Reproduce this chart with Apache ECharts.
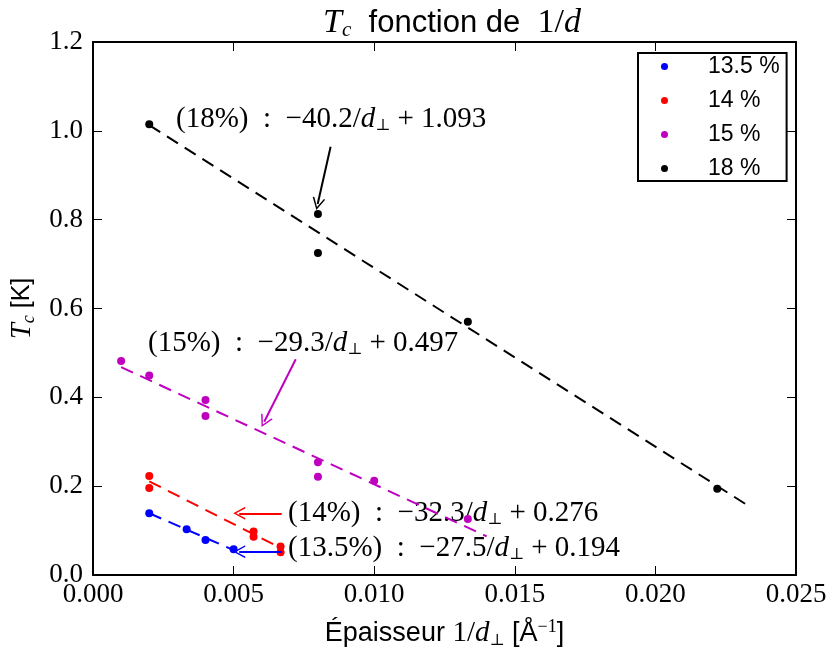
<!DOCTYPE html>
<html>
<head>
<meta charset="utf-8">
<script src="https://cdn.jsdelivr.net/npm/echarts@6/dist/echarts.min.js"></script>
<style>
  html, body { margin: 0; padding: 0; background: #fff; }
  #chart { width: 830px; height: 654px; }
</style>
</head>
<body>
<div id="chart"></div>
<script>
var names = ['13.5 %', '14 %', '15 %', '18 %'];
var colors = ['#0000ff', '#ff0000', '#bf00bf', '#000000'];

var x135 = [0.002, 0.00333, 0.004, 0.005];
var tc135 = [0.139, 0.103, 0.079, 0.058];
var x14 = [0.002, 0.002, 0.00571, 0.00571, 0.00667, 0.00667];
var tc14 = [0.223, 0.196, 0.098, 0.086, 0.064, 0.051];
var x15 = [0.001, 0.002, 0.004, 0.004, 0.008, 0.008, 0.01, 0.01333];
var tc15 = [0.482, 0.449, 0.394, 0.358, 0.254, 0.221, 0.212, 0.126];
var x18 = [0.002, 0.008, 0.008, 0.01333, 0.0222];
var tc18 = [1.015, 0.813, 0.725, 0.570, 0.194];

// droites d'ajustement (extremites)
var fit135 = [[0.002, 0.139], [0.005, 0.056]];
var fit14 = [[0.002, 0.211], [0.00667, 0.061]];
var fit15 = [[0.001, 0.468], [0.0140, 0.087]];
var fit18 = [[0.002, 1.013], [0.0233, 0.156]];

// fleches des annotations (queue, pointe)
var arrow135 = [[0.00671, 0.0525], [0.00520, 0.0525]];
var arrow14 = [[0.00671, 0.1389], [0.00520, 0.1389]];
var arrow15 = [[0.00721, 0.4856], [0.00609, 0.3451]];
var arrow18 = [[0.00845, 0.9642], [0.00799, 0.8352]];

var labels = ['(13.5%)', '(14%)', '(15%)', '(18%)'];
var slopes = ['−27.5', '−32.3', '−29.3', '−40.2'];
var offsets = ['0.194', '0.276', '0.497', '1.093'];

var xTickLabels = ['0.000', '0.005', '0.010', '0.015', '0.020', '0.025'];
var yTickLabels = ['0.0', '0.2', '0.4', '0.6', '0.8', '1.0', '1.2'];

var SERIF = 'Liberation Serif';
var SANS = 'Liberation Sans';

function pts(xs, ys) {
    var out = [];
    for (var i = 0; i < xs.length; i++) out.push([xs[i], ys[i]]);
    return out;
}

var chart = echarts.init(document.getElementById('chart'), null, {renderer: 'canvas'});

var chevron = 'path://M0,10 L5,0 L10,10 L8.7,10 L5,2.4 L1.3,10 Z';

function fitSeries(name, data, color, arrow) {
    return {
        name: name,
        type: 'line',
        data: data,
        symbol: 'none',
        silent: true,
        z: 1,
        lineStyle: {color: color, width: 2, type: [13, 8]},
        markLine: {
            silent: true,
            symbol: ['none', chevron],
            symbolSize: [13, 12],
            label: {show: false},
            lineStyle: {color: color, width: 2, type: 'solid'},
            data: [[{coord: arrow[0]}, {coord: arrow[1]}]]
        }
    };
}

function scatterSeries(i, data) {
    return {
        name: names[i],
        type: 'scatter',
        data: data,
        symbol: 'circle',
        symbolSize: 8,
        z: 3,
        itemStyle: {color: colors[i], opacity: 1},
        emphasis: {disabled: true}
    };
}

var richEq = {
    i: {fontFamily: SERIF, fontStyle: 'italic', fontSize: 29, color: '#000'},
    s: {fontFamily: 'DejaVu Serif', fontSize: 16, color: '#000', verticalAlign: 'bottom', padding: [13, 0, 0, 0]}
};

function eqText(k, left, top) {
    return {
        type: 'text',
        left: left,
        top: top,
        silent: true,
        style: {
            text: labels[k] + '  :  ' + slopes[k] + '/{i|d}{s|⊥} + ' + offsets[k],
            font: '29px "' + SERIF + '"',
            fill: '#000',
            rich: richEq
        }
    };
}

function frameAxis() {
    return {
        axisLine: {show: true, onZero: false, lineStyle: {color: '#000', width: 2}},
        axisTick: {show: true, inside: true, length: 9, lineStyle: {color: '#000', width: 1}},
        splitLine: {show: false}
    };
}

var option = {
    backgroundColor: '#fff',
    animation: false,
    title: {
        text: '{i|T}{s|c}{t|  fonction de  }{m|1/}{i|d}',
        left: 447,
        textAlign: 'center',
        top: 0,
        textStyle: {
            fontWeight: 'normal',
            rich: {
                i: {fontFamily: SERIF, fontStyle: 'italic', fontWeight: 'normal', fontSize: 34, color: '#000'},
                s: {fontFamily: SERIF, fontStyle: 'italic', fontWeight: 'normal', fontSize: 21, color: '#000', verticalAlign: 'bottom', padding: [15, 0, 0, 0]},
                t: {fontFamily: SANS, fontWeight: 'normal', fontSize: 31, color: '#000'},
                m: {fontFamily: SERIF, fontWeight: 'normal', fontSize: 34, color: '#000'}
            }
        }
    },
    grid: {left: 93, right: 34, top: 42, bottom: 79, containLabel: false},
    legend: {
        data: names,
        orient: 'vertical',
        left: 638,
        top: 53,
        itemWidth: 7,
        itemHeight: 7,
        itemGap: 11,
        icon: 'circle',
        padding: [2, 7, 1, 23],
        borderColor: '#000',
        borderWidth: 2,
        backgroundColor: '#fff',
        formatter: function (n) { return '{t|' + n + '}'; },
        textStyle: {
            rich: {
                t: {fontFamily: SANS, fontSize: 23, lineHeight: 22, color: '#000', padding: [0, 0, 0, 35]}
            }
        }
    },
    xAxis: [
        Object.assign({
            type: 'value',
            position: 'bottom',
            min: 0, max: 0.025, interval: 0.005,
            name: '{a|Épaisseur }{m|1/}{i|d}{s|⊥}{a| [Å}{p|−1}{a|]}',
            nameLocation: 'middle',
            nameGap: 43,
            nameTextStyle: {
                rich: {
                    a: {fontFamily: SANS, fontSize: 27, color: '#000'},
                    m: {fontFamily: SERIF, fontSize: 29, color: '#000'},
                    i: {fontFamily: SERIF, fontStyle: 'italic', fontSize: 29, color: '#000'},
                    s: {fontFamily: 'DejaVu Serif', fontSize: 16, color: '#000', verticalAlign: 'bottom', padding: [13, 0, 0, 0]},
                    p: {fontFamily: SERIF, fontSize: 18, color: '#000', verticalAlign: 'top', padding: [0, 0, 13, 0]}
                }
            },
            axisLabel: {
                show: true, margin: 6,
                fontFamily: SERIF, fontSize: 27, color: '#000',
                formatter: function (v) { return xTickLabels[Math.round(v / 0.005)]; }
            }
        }, frameAxis()),
        Object.assign({
            type: 'value',
            position: 'top',
            min: 0, max: 0.025, interval: 0.005,
            axisLabel: {show: false}
        }, frameAxis())
    ],
    yAxis: [
        Object.assign({
            type: 'value',
            position: 'left',
            min: 0, max: 1.2, interval: 0.2,
            name: '{i|T}{s|c}{a| [K]}',
            nameLocation: 'middle',
            nameRotate: 90,
            nameGap: 55,
            nameTextStyle: {
                rich: {
                    i: {fontFamily: SERIF, fontStyle: 'italic', fontSize: 29, color: '#000'},
                    s: {fontFamily: SERIF, fontStyle: 'italic', fontSize: 18, color: '#000', verticalAlign: 'bottom', padding: [13, 0, 0, 0]},
                    a: {fontFamily: SANS, fontSize: 25, color: '#000'}
                }
            },
            axisLabel: {
                show: true, margin: 10,
                fontFamily: SERIF, fontSize: 27, color: '#000',
                formatter: function (v) { return yTickLabels[Math.round(v / 0.2)]; }
            }
        }, frameAxis()),
        Object.assign({
            type: 'value',
            position: 'right',
            min: 0, max: 1.2, interval: 0.2,
            axisLabel: {show: false}
        }, frameAxis())
    ],
    graphic: [
        eqText(3, 176, 105),
        eqText(2, 148, 329),
        eqText(1, 288, 499),
        eqText(0, 288, 534)
    ],
    series: [
        fitSeries('fit 13.5', fit135, colors[0], arrow135),
        fitSeries('fit 14', fit14, colors[1], arrow14),
        fitSeries('fit 15', fit15, colors[2], arrow15),
        fitSeries('fit 18', fit18, colors[3], arrow18),
        scatterSeries(0, pts(x135, tc135)),
        scatterSeries(1, pts(x14, tc14)),
        scatterSeries(2, pts(x15, tc15)),
        scatterSeries(3, pts(x18, tc18))
    ]
};

chart.setOption(option);
</script>
</body>
</html>
